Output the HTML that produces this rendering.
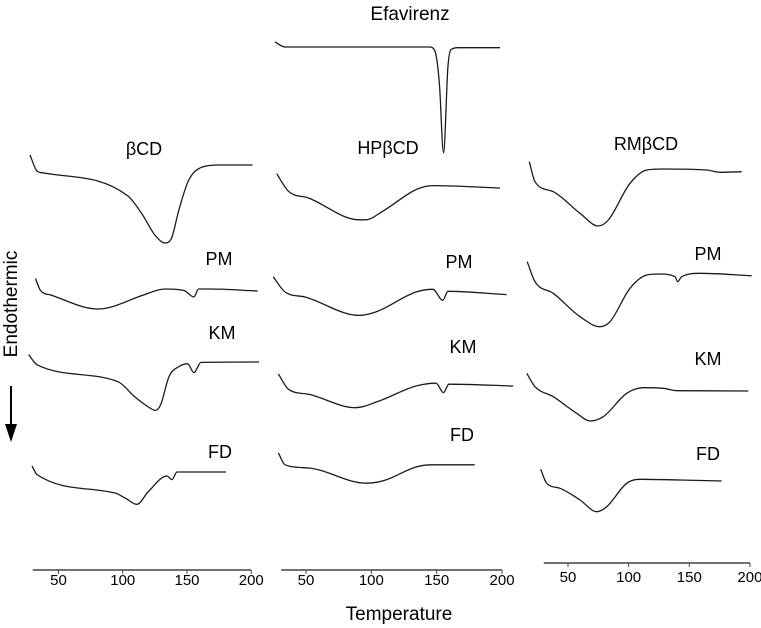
<!DOCTYPE html>
<html><head><meta charset="utf-8"><style>
html,body{margin:0;padding:0;background:#fff;}
svg{display:block;font-family:"Liberation Sans",Arial,sans-serif;}
</style></head><body>
<svg id="chart" width="761" height="628" viewBox="0 0 761 628">
<g id="curves"></g>
<g id="axes"></g>
<g id="labels">
<text x="410" y="20" font-size="19" text-anchor="middle">Efavirenz</text>
<text x="144" y="155" font-size="18" text-anchor="middle">βCD</text>
<text x="388" y="154" font-size="18" text-anchor="middle">HPβCD</text>
<text x="646" y="150" font-size="18" text-anchor="middle">RMβCD</text>
<text x="219" y="265" font-size="18" text-anchor="middle">PM</text>
<text x="222" y="339" font-size="18" text-anchor="middle">KM</text>
<text x="220" y="458" font-size="18" text-anchor="middle">FD</text>
<text x="459" y="268" font-size="18" text-anchor="middle">PM</text>
<text x="463" y="353" font-size="18" text-anchor="middle">KM</text>
<text x="462" y="441" font-size="18" text-anchor="middle">FD</text>
<text x="708" y="260" font-size="18" text-anchor="middle">PM</text>
<text x="708" y="365" font-size="18" text-anchor="middle">KM</text>
<text x="708" y="460" font-size="18" text-anchor="middle">FD</text>
<text x="0" y="0" font-size="19" text-anchor="middle" transform="translate(17,304) rotate(-90)">Endothermic</text>
<line x1="11" y1="386" x2="11" y2="426" stroke="#000" stroke-width="2"/>
<polygon points="5,424 17,424 11,442" fill="#000"/>
<text x="399" y="620" font-size="19" text-anchor="middle">Temperature</text>
</g>
</svg>
<script>
// Panel axis definitions (temperature scales)
const tickValues = [50, 100, 150, 200];
const panels = [
  {name:'bcd', x0:58.5, k:1.285, axisY:570, tminLine:30, labelY:585},
  {name:'hpbcd', x0:306, k:1.307, axisY:570, tminLine:31, labelY:585},
  {name:'rmbcd', x0:568, k:1.213, axisY:563, tminLine:30, labelY:582}
];
function xScale(p, t){ return p.x0 + (t - 50) * p.k; }

// Curve data: temperature (°C) and heat-flow signal (relative, endotherm down)
const bcdT   = [27.8,33.3,38.7,104,115,125,133,138,143.5,151,162,175,201];
const bcdV   = [-10,6,8,31,49,70,78,73,46,16,2,0,0];
const bcdPmT = [32.1,36,44,80.7,91,115,133,147.7,155.4,159,167.5,205];
const bcdPmV = [-10.4,1.5,6,20,18,6.5,0,1.5,8,0,0,2];
const bcdKmT = [26.8,33.3,96.3,109.5,120,125.4,129.4,136,143.8,150.4,155.4,160.9,206];
const bcdKmV = [-7.3,2.8,19.7,35,45,48.4,43,14.6,4.5,1.8,10.6,0.4,0];
const bcdFdT = [29.4,33.3,94,101.8,111,120,134.4,138.3,142.2,180.3];
const bcdFdV = [-6,2.6,21,26,32.3,19.5,4,7.6,0,0];

const efvT = [26.3,33.9,144.4,148.3,152.1,155.2,158.6,160.9,166.3,198.4];
const efvV = [-5.7,-0.7,-0.7,2.3,36.3,105,19.3,2,0,0];
const hpT   = [27.6,36.6,52,90.5,95.7,108.5,134.2,147,198.4];
const hpV   = [-14.2,3.3,10,31.8,31.8,23.4,1.6,-2.4,0];
const hpPmT = [25,33.9,49.2,90.6,103.3,134.2,147,154.7,158.6,203.5];
const hpPmV = [-17.8,-2.6,2.4,20.8,17.4,-2.6,-5.3,5.7,-3.3,0];
const hpKmT = [28.9,36.6,52,87.9,105.9,134.2,149.5,155.2,159.3,208.6];
const hpKmV = [-12,3.3,8.3,21.7,15,0,-2.8,6.6,-1.8,0];
const hpFdT = [28.9,33.9,52,95.7,111,134.2,147,179.1];
const hpFdV = [-11.8,0,3.2,18.4,15.2,2.2,0,0];

const rmT   = [18.1,22.8,37.9,59.9,75,83.2,101.1,114.9,128.6,164.3,175.3,193.2];
const rmV   = [-8.3,11.7,21.7,43.3,56,50,13.3,0,-1,0,2.3,1.7];
const rmPmT = [16.4,22.8,37.9,59.9,76.4,84.6,101.1,114.9,125.8,138.2,140.4,143.7,158.8,201.4];
const rmPmV = [-14,6,17.6,41,51,46,12.6,-0.7,-1.7,1,6,1,-2.4,0];
const rmKmT = [16,22.8,37.9,57.2,68.1,79.1,98.4,112.1,128.6,139.6,198.6];
const rmKmV = [-17.7,-4.3,5.7,22.3,30,25.7,2.3,-3.3,-2.7,-0.3,0];
const rmFdT = [27.5,32.4,43.4,59.9,73.7,81.9,98.4,109.4,142.3,176.7];
const rmFdV = [-11.7,2.3,7.3,19,30.7,25.7,2.3,-1.7,-1,0];

const curves = [
  {id:'bcd-curve', p:0, base:165, t:bcdT, v:bcdV},
  {id:'bcd-pm-curve', p:0, base:289, t:bcdPmT, v:bcdPmV},
  {id:'bcd-km-curve', p:0, base:362, t:bcdKmT, v:bcdKmV},
  {id:'bcd-fd-curve', p:0, base:472, t:bcdFdT, v:bcdFdV},
  {id:'efavirenz-curve', p:1, base:47.7, t:efvT, v:efvV},
  {id:'hpbcd-curve', p:1, base:188, t:hpT, v:hpV},
  {id:'hpbcd-pm-curve', p:1, base:294.6, t:hpPmT, v:hpPmV},
  {id:'hpbcd-km-curve', p:1, base:386, t:hpKmT, v:hpKmV},
  {id:'hpbcd-fd-curve', p:1, base:464.8, t:hpFdT, v:hpFdV},
  {id:'rmbcd-curve', p:2, base:170, t:rmT, v:rmV},
  {id:'rmbcd-pm-curve', p:2, base:275.7, t:rmPmT, v:rmPmV},
  {id:'rmbcd-km-curve', p:2, base:391, t:rmKmT, v:rmKmV},
  {id:'rmbcd-fd-curve', p:2, base:481, t:rmFdT, v:rmFdV}
];
const NS = 'http://www.w3.org/2000/svg';
// Monotone cubic (Fritsch-Carlson) interpolation, no overshoot
function monotonePath(xs, ys){
  const n = xs.length, d = [], m = new Array(n);
  for (let i = 0; i < n-1; i++) d.push((ys[i+1]-ys[i])/(xs[i+1]-xs[i]));
  m[0] = d[0]; m[n-1] = d[n-2];
  for (let i = 1; i < n-1; i++) m[i] = (d[i-1]*d[i] <= 0) ? 0 : (d[i-1]+d[i])/2;
  for (let i = 0; i < n-1; i++){
    if (d[i] === 0){ m[i] = 0; m[i+1] = 0; continue; }
    const a = m[i]/d[i], b = m[i+1]/d[i], s = a*a + b*b;
    if (s > 9){ const t = 3/Math.sqrt(s); m[i] = t*a*d[i]; m[i+1] = t*b*d[i]; }
  }
  let path = 'M' + xs[0].toFixed(1) + ',' + ys[0].toFixed(1);
  for (let i = 0; i < n-1; i++){
    const h = (xs[i+1]-xs[i])/3;
    path += ' C' + (xs[i]+h).toFixed(1) + ',' + (ys[i]+m[i]*h).toFixed(1) + ' ' +
            (xs[i+1]-h).toFixed(1) + ',' + (ys[i+1]-m[i+1]*h).toFixed(1) + ' ' +
            xs[i+1].toFixed(1) + ',' + ys[i+1].toFixed(1);
  }
  return path;
}
const cg = document.getElementById('curves');
curves.forEach(c => {
  const p = panels[c.p];
  const xs = c.t.map(t => xScale(p, t));
  const ys = c.v.map(v => c.base + v);
  const path = document.createElementNS(NS, 'path');
  path.setAttribute('d', monotonePath(xs, ys));
  path.setAttribute('fill', 'none');
  path.setAttribute('stroke', '#1a1a1a');
  path.setAttribute('stroke-width', '1.3');
  path.setAttribute('stroke-linejoin', 'round');
  
  
  cg.appendChild(path);
});
const ag = document.getElementById('axes');
panels.forEach(p => {
  const line = document.createElementNS(NS, 'line');
  line.setAttribute('x1', xScale(p, p.tminLine));
  line.setAttribute('x2', xScale(p, 200));
  line.setAttribute('y1', p.axisY);
  line.setAttribute('y2', p.axisY);
  line.setAttribute('stroke', '#444');
  line.setAttribute('stroke-width', '1.5');
  
  
  ag.appendChild(line);
  tickValues.forEach(tv => {
    const x = xScale(p, tv);
    const tk = document.createElementNS(NS, 'line');
    tk.setAttribute('x1', x); tk.setAttribute('x2', x);
    tk.setAttribute('y1', p.axisY); tk.setAttribute('y2', p.axisY + 4);
    tk.setAttribute('stroke', '#444');
    
    
    ag.appendChild(tk);
    const tx = document.createElementNS(NS, 'text');
    tx.setAttribute('x', x);
    tx.setAttribute('y', p.labelY);
    tx.setAttribute('font-size', '15');
    tx.setAttribute('text-anchor', 'middle');
    tx.textContent = String(tv);
    
    
    ag.appendChild(tx);
  });
});
</script>
</body></html>
